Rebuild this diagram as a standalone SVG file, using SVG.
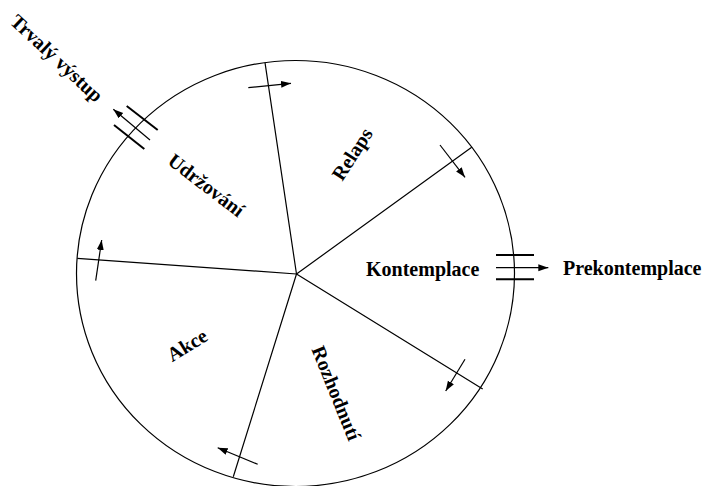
<svg xmlns="http://www.w3.org/2000/svg" width="704" height="486" viewBox="0 0 704 486">
<style>
.ln{stroke:#000;stroke-width:1.2;fill:none}
.bar{stroke:#000;stroke-width:2;fill:none}
.ar{stroke:#000;stroke-width:1.2;fill:none;marker-end:url(#ah)}
text{font-family:"Liberation Serif","Times New Roman",serif;font-weight:bold;font-size:20px;fill:#000}
.c{text-anchor:middle}
</style>
<defs>
<marker id="ah" markerUnits="userSpaceOnUse" markerWidth="11" markerHeight="8" refX="10" refY="3.5" orient="auto">
<path d="M0,0 L10,3.5 L0,7 z" fill="#000"/>
</marker>
</defs>
<rect width="704" height="486" fill="#fff"/>
<g id="wheel">
<ellipse class="ln" cx="295.5" cy="273.5" rx="219" ry="213"/>
<path class="ln" d="M296.5,274 L265,62.7 M296.5,274 L471.7,147.3 M296.5,274 L482.7,389 M296.5,274 L233.3,476.7 M296.5,274 L77.3,258.3"/>
</g>
<g id="relaps"><text class="c" transform="translate(352,154) rotate(-57)" y="7">Relaps</text></g>
<g id="udrzovani"><text class="c" transform="translate(206.5,185) rotate(37.5)" y="7">Udržování</text></g>
<g id="akce"><text class="c" transform="translate(187,345) rotate(-31.5)" y="7">Akce</text></g>
<g id="rozhodnuti"><text class="c" transform="translate(336.5,393) rotate(68)" y="7">Rozhodnutí</text></g>
<g id="kontemplace"><text x="366" y="276">Kontemplace</text></g>
<g id="prekontemplace"><text x="563" y="274.5">Prekontemplace</text></g>
<g id="trvaly-vystup"><text class="c" transform="translate(57,58) rotate(43)" y="7">Trvalý výstup</text></g>
<g id="connectors">
<line class="ar" x1="248.3" y1="87.7" x2="291" y2="83.3"/>
<line class="ar" x1="440" y1="145" x2="465" y2="177.3"/>
<line class="ar" x1="95.7" y1="280.7" x2="101.7" y2="240"/>
<line class="ar" x1="465" y1="359.3" x2="445.7" y2="391"/>
<line class="ar" x1="257.7" y1="464.3" x2="217.7" y2="447.7"/>
<line class="ar" x1="150" y1="140" x2="113.3" y2="109.3"/>
<line class="bar" x1="126.7" y1="106" x2="157.7" y2="130"/>
<line class="bar" x1="114" y1="125" x2="144.3" y2="149"/>
<line class="ar" x1="496" y1="267.7" x2="548.3" y2="267.7"/>
<line class="bar" x1="496" y1="255" x2="534" y2="255"/>
<line class="bar" x1="496" y1="279.3" x2="534" y2="279.3"/>
</g>
</svg>
